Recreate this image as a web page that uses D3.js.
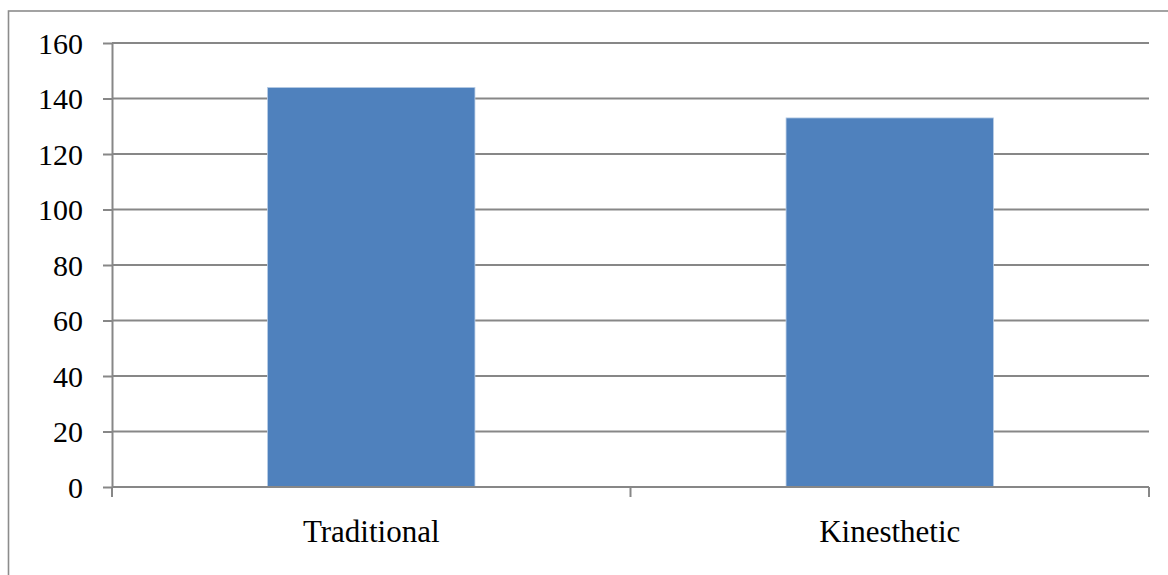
<!DOCTYPE html>
<html>
<head>
<meta charset="utf-8">
<script src="https://cdn.jsdelivr.net/npm/d3@7"></script>
<style>
  body { margin: 0; background: #fff; }
  svg { display: block; }
</style>
</head>
<body>
<div id="chart"></div>
<script>
// chart data
var categories = ["Traditional", "Kinesthetic"];
var values = [144, 133];
var yTicks = [0, 20, 40, 60, 80, 100, 120, 140, 160];

var W = 1168, H = 575;
var margin = {top: 43, right: 19, bottom: 88, left: 112},
    width = W - margin.left - margin.right,
    height = H - margin.top - margin.bottom;
var serif = "'Liberation Serif', 'Times New Roman', serif";

var svg = d3.select("#chart").append("svg")
    .attr("width", W)
    .attr("height", H);

// outer frame
svg.append("rect")
    .attr("x", 8.5)
    .attr("y", 11)
    .attr("width", W + 10)
    .attr("height", H + 10)
    .attr("fill", "none")
    .attr("stroke", "#8c8c8c")
    .attr("stroke-width", 1.6);

var g = svg.append("g")
    .attr("transform", "translate(" + margin.left + "," + margin.top + ")");

var x = d3.scaleBand()
    .domain(categories)
    .range([0, width])
    .paddingInner(0.6)
    .paddingOuter(0.3);

var y = d3.scaleLinear()
    .domain([0, 160])
    .range([height, 0]);

// gridlines
g.selectAll(".grid")
    .data(yTicks)
    .enter().append("line")
    .attr("class", "grid")
    .attr("x1", 0)
    .attr("x2", width)
    .attr("y1", function(d) { return y(d); })
    .attr("y2", function(d) { return y(d); })
    .attr("stroke", "#878787")
    .attr("stroke-width", 2);

// bars
g.selectAll(".bar")
    .data(values)
    .enter().append("rect")
    .attr("class", "bar")
    .attr("x", function(d, i) { return x(categories[i]); })
    .attr("width", x.bandwidth())
    .attr("y", function(d) { return y(d); })
    .attr("height", function(d) { return height - y(d); })
    .attr("fill", "#4f81bd")
    .attr("stroke", "#b9cde5")
    .attr("stroke-width", 0.8);

// y axis
var yAxis = g.append("g")
    .attr("font-family", serif)
    .attr("font-size", 30)
    .call(d3.axisLeft(y).tickValues(yTicks).tickSize(9).tickPadding(20).tickSizeOuter(0));
yAxis.attr("font-family", serif).attr("font-size", 30);
yAxis.select(".domain").attr("stroke", "#878787").attr("stroke-width", 2);
yAxis.selectAll(".tick line").attr("stroke", "#878787").attr("stroke-width", 2);
yAxis.selectAll(".tick text")
    .attr("dy", "0.34em")
    .attr("fill", "#000")
    .style("font-family", serif)
    .style("font-size", "30px");

// x axis with boundary ticks
var xAxis = g.append("g")
    .attr("transform", "translate(0," + height + ")");
xAxis.append("line")
    .attr("x1", 0).attr("x2", width)
    .attr("stroke", "#878787").attr("stroke-width", 2);
var bounds = [0].concat(categories.map(function(c) { return x(c) + x.bandwidth() + x.step() * 0.3; }));
xAxis.selectAll(".xt")
    .data(bounds)
    .enter().append("line")
    .attr("x1", function(d) { return d; })
    .attr("x2", function(d) { return d; })
    .attr("y1", 0).attr("y2", 10)
    .attr("stroke", "#878787").attr("stroke-width", 2);
xAxis.selectAll(".xl")
    .data(categories)
    .enter().append("text")
    .attr("x", function(d) { return x(d) + x.bandwidth() / 2; })
    .attr("y", 55)
    .attr("text-anchor", "middle")
    .style("font-family", serif)
    .style("font-size", "31px")
    .text(function(d) { return d; });
</script>
</body>
</html>
